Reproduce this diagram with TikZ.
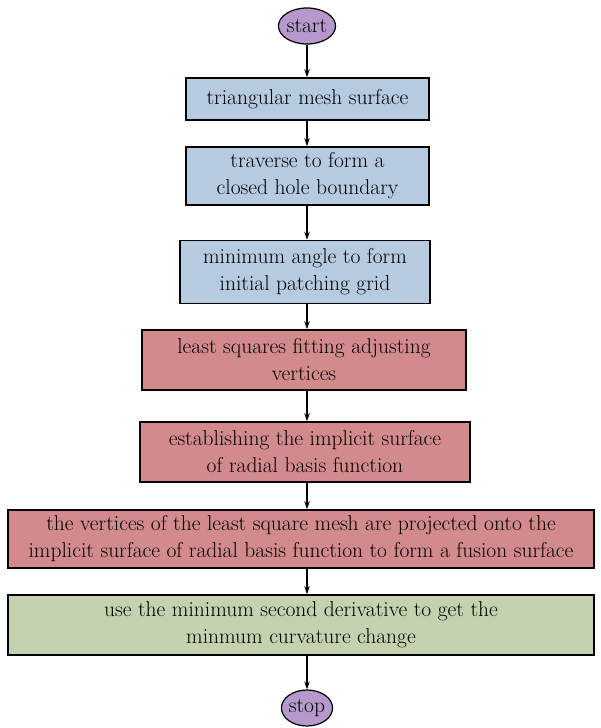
\documentclass[tikz,border=0pt]{standalone}
\usepackage{xcolor}
\definecolor{fcblue}{RGB}{182,202,224}
\definecolor{fcred}{RGB}{210,138,140}
\definecolor{fcgreen}{RGB}{196,210,176}
\definecolor{fcpurple}{RGB}{182,152,204}
\usetikzlibrary{shapes.geometric,arrows.meta,positioning}

\begin{document}
\begin{tikzpicture}[x=1pt, y=-1pt,
  every node/.style={font=\fontsize{21.5}{27}\selectfont},
  procbox/.style={draw, line width=1.6pt, align=center, inner sep=2pt},
  termnode/.style={draw, line width=1.2pt, ellipse, fill=fcpurple, inner sep=0pt},
  flowarrow/.style={-{Stealth[length=8pt,width=5.5pt]}, line width=1.1pt}]
  \useasboundingbox (0,0) rectangle (600,728);
  \node[termnode, minimum width=55pt, minimum height=36pt] (start) at (307,26) {start};
  \node[procbox, fill=fcblue, minimum width=243pt, minimum height=42pt] (mesh) at (307.5,99) {triangular mesh surface};
  \node[procbox, fill=fcblue, minimum width=243pt, minimum height=58pt] (hole) at (307.5,176) {traverse to form a\\closed hole boundary};
  \node[procbox, fill=fcblue, minimum width=250pt, minimum height=63pt] (grid) at (305,272) {minimum angle to form\\initial patching grid};
  \node[procbox, fill=fcred, minimum width=324pt, minimum height=60pt] (lsq) at (304,360) {least squares fitting adjusting\\vertices};
  \node[procbox, fill=fcred, minimum width=330pt, minimum height=60pt] (rbf) at (305,452) {establishing the implicit surface\\of radial basis function};
  \node[procbox, fill=fcred, minimum width=586pt, minimum height=58pt] (fuse) at (301,539) {the vertices of the least square mesh are projected onto the\\implicit surface of radial basis function to form a fusion surface};
  \node[procbox, fill=fcgreen, minimum width=586pt, minimum height=60pt] (curv) at (301,625) {use the minimum second derivative to get the\\minmum curvature change};
  \node[termnode, minimum width=50pt, minimum height=36pt] (stop) at (307,708) {stop};
  \draw[flowarrow] (start) -- (start |- mesh.north);
  \draw[flowarrow] (mesh.south -| start) -- (start |- hole.north);
  \draw[flowarrow] (hole.south -| start) -- (start |- grid.north);
  \draw[flowarrow] (grid.south -| start) -- (start |- lsq.north);
  \draw[flowarrow] (lsq.south -| start) -- (start |- rbf.north);
  \draw[flowarrow] (rbf.south -| start) -- (start |- fuse.north);
  \draw[flowarrow] (fuse.south -| start) -- (start |- curv.north);
  \draw[flowarrow] (curv.south -| start) -- (stop);
\end{tikzpicture}
\end{document}
